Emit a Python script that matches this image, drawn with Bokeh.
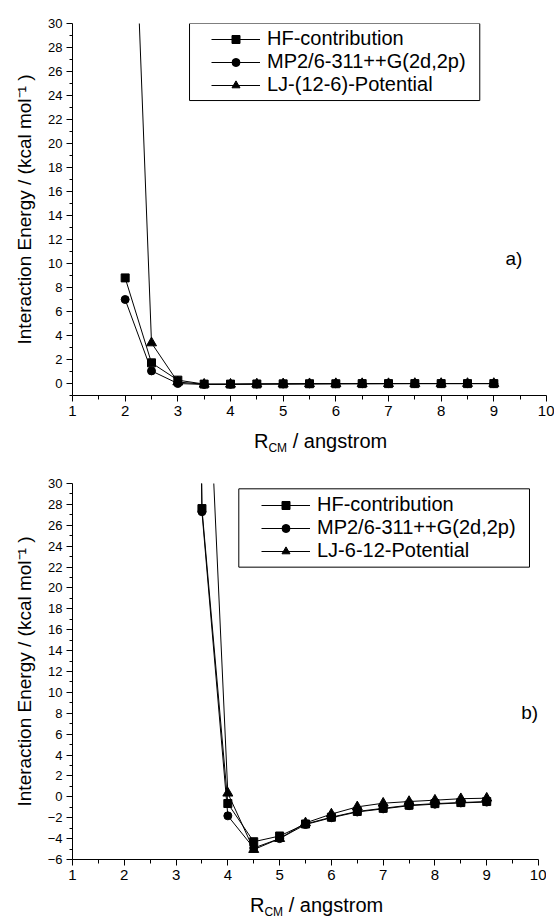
from bokeh.plotting import figure
from bokeh.models import Range1d, FixedTicker, Legend, LegendItem, BoxAnnotation, Label, Div
from bokeh.layouts import column
from bokeh.embed import file_html
from bokeh.resources import INLINE

FONT = "Liberation Sans"

# ---------------- data: panel a) ----------------
r_a = [2.0, 2.5, 3.0, 3.5, 4.0, 4.5, 5.0, 5.5, 6.0, 6.5, 7.0, 7.5, 8.0, 8.5, 9.0]
hf_a = [8.8, 1.72, 0.28, -0.05, -0.05, -0.04, -0.03, -0.02, -0.02, -0.01, -0.01, -0.01, -0.01, -0.01, -0.01]
mp2_a = [7.0, 1.05, 0.0, -0.08, -0.07, -0.05, -0.04, -0.03, -0.02, -0.02, -0.01, -0.01, -0.01, -0.01, -0.01]
lj_a = [61.0, 3.38, 0.12, -0.06, -0.06, -0.04, -0.03, -0.02, -0.01, -0.01, -0.01, 0.0, 0.0, 0.0, 0.0]
labels_a = ["HF-contribution", "MP2/6-311++G(2d,2p)", "LJ-(12-6)-Potential"]

# ---------------- data: panel b) ----------------
r_b = [3.0, 3.5, 4.0, 4.5, 5.0, 5.5, 6.0, 6.5, 7.0, 7.5, 8.0, 8.5, 9.0]
hf_b = [240.0, 27.6, -0.64, -4.3, -3.75, -2.6, -1.95, -1.4, -1.1, -0.8, -0.65, -0.55, -0.45]
mp2_b = [240.0, 27.3, -1.82, -4.9, -4.0, -2.65, -2.0, -1.45, -1.15, -0.85, -0.7, -0.58, -0.5]
lj_b = [600.0, 55.0, 0.35, -5.05, -4.0, -2.5, -1.65, -0.96, -0.61, -0.45, -0.32, -0.18, -0.13]
labels_b = ["HF-contribution", "MP2/6-311++G(2d,2p)", "LJ-6-12-Potential"]

# ---------------- ticks ----------------
x_major = [1, 2, 3, 4, 5, 6, 7, 8, 9, 10]
x_minor = [1.5, 2.5, 3.5, 4.5, 5.5, 6.5, 7.5, 8.5, 9.5]
y_major_a = [0, 2, 4, 6, 8, 10, 12, 14, 16, 18, 20, 22, 24, 26, 28, 30]
y_minor_a = [-1, 1, 3, 5, 7, 9, 11, 13, 15, 17, 19, 21, 23, 25, 27, 29]
y_major_b = [-6, -4, -2, 0, 2, 4, 6, 8, 10, 12, 14, 16, 18, 20, 22, 24, 26, 28, 30]
y_minor_b = [-5, -3, -1, 1, 3, 5, 7, 9, 11, 13, 15, 17, 19, 21, 23, 25, 27, 29]

y_title = "Interaction Energy / (kcal mol\u207b\u00b9 )"


def panel(x, hf, mp2, lj, labels, yr, ymaj, ymin_t, fw, fh,
          bt, bb, br, leg_xy, box, tag, tag_xy):
    p = figure(x_range=Range1d(1, 10), y_range=Range1d(*yr),
               frame_width=fw, frame_height=fh,
               min_border_left=72, min_border_right=br,
               min_border_top=bt, min_border_bottom=bb,
               output_backend="svg", toolbar_location=None,
               background_fill_color="white", border_fill_color="white",
               outline_line_color=None)
    p.xgrid.visible = False
    p.ygrid.visible = False

    xa = p.xaxis[0]
    xa.ticker = FixedTicker(ticks=x_major, minor_ticks=x_minor)
    xa.major_tick_out = 6
    xa.major_tick_in = 0
    xa.minor_tick_out = 4
    xa.minor_tick_in = 0
    xa.major_label_text_font = FONT
    xa.major_label_text_font_size = "15px"
    xa.major_label_text_color = "black"
    xa.major_label_standoff = 4
    xa.axis_line_color = "black"
    xa.major_tick_line_color = "black"
    xa.minor_tick_line_color = "black"

    ya = p.yaxis[0]
    ya.ticker = FixedTicker(ticks=ymaj, minor_ticks=ymin_t)
    ya.major_tick_out = 6
    ya.major_tick_in = 0
    ya.minor_tick_out = 3
    ya.minor_tick_in = 0
    ya.major_label_text_font = FONT
    ya.major_label_text_font_size = "13px"
    ya.major_label_text_color = "black"
    ya.major_label_standoff = 4
    ya.axis_line_color = "black"
    ya.major_tick_line_color = "black"
    ya.minor_tick_line_color = "black"
    ya.axis_label = y_title
    ya.axis_label_text_font = FONT
    ya.axis_label_text_font_size = "19px"
    ya.axis_label_text_font_style = "normal"
    ya.axis_label_text_color = "black"
    ya.axis_label_standoff = 10

    items = []
    for ys, lab, mk, sz in zip([hf, mp2, lj], labels,
                               ["square", "circle", "triangle"], [8, 8, 10]):
        rl = p.line(x, ys, line_color="black", line_width=1)
        rs = p.scatter(x, ys, marker=mk, size=sz, fill_color="black",
                       line_color="black")
        items.append(LegendItem(label=lab, renderers=[rl, rs]))

    leg = Legend(items=items, location=leg_xy, padding=5, spacing=0, margin=0,
                 glyph_width=49, glyph_height=20, label_height=20,
                 label_standoff=7, label_text_font=FONT,
                 label_text_font_size="20px", label_text_color="black",
                 border_line_alpha=0, background_fill_alpha=0)
    p.add_layout(leg)

    p.add_layout(BoxAnnotation(left=box[0], right=box[1], top=box[2],
                               bottom=box[3], fill_alpha=0,
                               line_color="black", line_alpha=1,
                               line_width=1))

    p.add_layout(Label(x=tag_xy[0], y=tag_xy[1], text=tag, text_font=FONT,
                       text_font_size="19px", text_color="black",
                       text_baseline="alphabetic"))
    return p


def x_title(left, pad_top, height, width):
    html = (
        '<div style="position:relative; white-space:nowrap; '
        'font-family:\'Liberation Sans\'; font-size:20px; line-height:24px; '
        'color:black; padding-left:%dpx; padding-top:%dpx;">'
        'R<span style="font-size:12px; position:relative; top:4px;">CM</span>'
        ' / angstrom</div>' % (left, pad_top)
    )
    return Div(text=html, width=width, height=height, margin=0)


pa = panel(r_a, hf_a, mp2_a, lj_a, labels_a, (-1, 30),
           y_major_a, y_minor_a, 474, 372, 23, 27, 8, (134, 294),
           (3.222, 8.733, 30.0, 23.58), "a)", (9.22, 10.4))
ta = x_title(254, 7, 35, 554)
pb = panel(r_b, hf_b, mp2_b, lj_b, labels_b, (-6, 30),
           y_major_b, y_minor_b, 466, 376, 26, 27, 8, (184, 292),
           (4.212, 9.826, 29.49, 21.99), "b)", (9.666, 8.07))
tb = x_title(250, 7, 32, 546)

layout = column(pa, ta, pb, tb, spacing=0)
open("out.html", "w").write(file_html(layout, INLINE))
